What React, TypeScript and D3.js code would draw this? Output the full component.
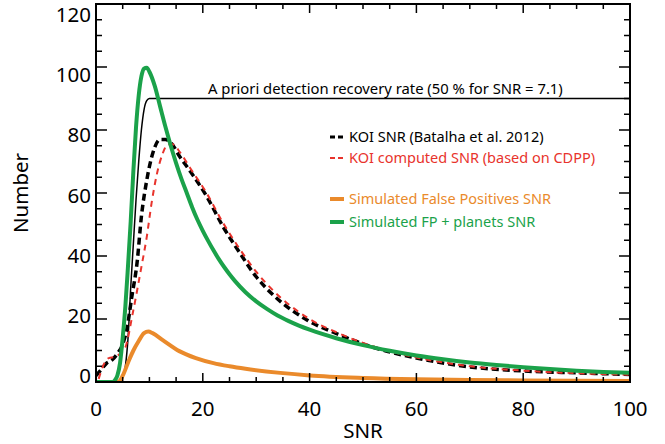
import * as d3 from "d3";
import React from "react";

// SNR, number pairs
const koiSnr: [number, number][] = [
  [0, 2], [1, 4], [2, 6], [3, 7], [4, 9], [5, 12], [5.8, 17], [6.7, 27], [7.7, 38],
  [8.5, 52.5], [9.5, 64], [10.7, 73], [12, 77], [13, 77], [14, 76], [15.7, 71.5],
  [17.6, 67], [20.7, 59], [23.8, 49.3], [27, 40.8], [30, 33.4], [33.2, 27.6],
  [39.5, 19.7], [45.7, 14.9], [51, 11.5], [60, 7.6], [70, 4.8], [80, 3.5],
  [90, 2.9], [100, 2.4],
];

const koiComputed: [number, number][] = [
  [0.5, 1], [1.3, 5], [2.4, 7.6], [3.5, 8], [4.5, 9], [5.5, 11], [6.9, 22],
  [8.5, 36.5], [9.5, 46], [10.4, 56.7], [11.4, 66], [12.5, 72.6], [13.5, 75.5],
  [14.3, 75.5], [15.7, 73], [17.6, 68], [20.7, 60], [23.8, 50.5], [27, 42],
  [30, 35], [33.2, 29], [39.5, 20.5], [45.7, 15.3], [51, 11.8], [60, 7.8],
  [70, 5], [80, 3.6], [90, 2.8], [100, 2.3],
];

const simFP: [number, number][] = [
  [0, 0], [4, 0], [4.5, 0.5], [5, 2], [6.2, 7], [7, 10], [8, 13], [9, 15.5],
  [9.8, 16], [10.6, 15.5], [12.5, 13.3], [15.6, 9.8], [18.7, 7.6], [22, 6],
  [25, 5], [28, 4.2], [34.5, 2.9], [40, 2.1], [50, 1.3], [60, 0.85], [70, 0.6],
  [80, 0.5], [100, 0.3],
];

const simFPPlanets: [number, number][] = [
  [0, 0], [3, 0], [3.5, 0.5], [4, 2], [4.5, 6], [5, 14], [5.5, 24], [6, 37],
  [6.5, 51], [7, 67], [7.5, 81], [8, 91], [8.5, 97], [9, 99.5], [9.5, 99.8],
  [10, 98.5], [11, 94], [12, 87.5], [13, 81], [14, 75], [15, 69.5], [16, 64.5],
  [17, 60], [18, 55.5], [19, 51.5], [20, 48], [21, 44.8], [22, 41.8], [23, 39],
  [24, 36.5], [25, 34.2], [26, 32.1], [28, 28.5], [30, 25.6], [32, 23.2],
  [34, 21.1], [36, 19.4], [38, 17.9], [40, 16.6], [45, 13.9], [50, 11.7],
  [55, 9.9], [60, 8.4], [65, 7.2], [70, 6.2], [75, 5.4], [80, 4.7], [85, 4.1],
  [90, 3.6], [95, 3.2], [100, 2.9],
];

const recoveryRate: [number, number][] = [
  [0, 0], [4, 0], [4.5, 0.3], [5, 1.5], [5.5, 5], [6, 14], [6.5, 30], [7, 44],
  [7.5, 58], [8, 70], [8.5, 80], [9, 86.5], [9.5, 89.3], [10, 90], [100, 90],
];

const xTicks = [0, 20, 40, 60, 80, 100];
const yTicks = [0, 20, 40, 60, 80, 100, 120];

const legendItems = [
  { label: "KOI SNR (Batalha et al. 2012)", color: "#000000", dashed: true, width: 3 },
  { label: "KOI computed SNR (based on CDPP)", color: "#e8332c", dashed: true, width: 2 },
  { label: "Simulated False Positives SNR", color: "#ea8a2b", dashed: false, width: 4 },
  { label: "Simulated FP + planets SNR", color: "#1ba24a", dashed: false, width: 4 },
];
const legendRows = [137, 158, 199, 222];

const W = 665;
const H = 444;
const m = { left: 96, right: 35, top: 4, bottom: 62 };
const font = "'Noto Sans', sans-serif";

export default function App() {
  const x = d3.scaleLinear().domain([0, 100]).range([m.left, W - m.right]);
  const y = d3.scaleLinear().domain([0, 120]).range([H - m.bottom, m.top]);
  // the y tick labels sit slightly inside the end ticks in the original
  const yLabel = d3.scaleLinear().domain([0, 120]).range([H - m.bottom - 6, m.top + 11]);
  const line = d3
    .line<[number, number]>()
    .x((d) => x(d[0]))
    .y((d) => y(d[1]))
    .curve(d3.curveMonotoneX);

  const x0 = x(0), x1 = x(100), yb = y(0), yt = y(120);
  const xMinor = d3.range(0, 101, 5);
  const yMinor = d3.range(0, 121, 5);

  return (
    <svg
      width={W}
      height={H}
      style={{ position: "absolute", left: 0, top: 0, background: "#fff" }}
    >
      <defs>
        <clipPath id="plot">
          <rect x={x0} y={yt} width={x1 - x0} height={yb - yt} />
        </clipPath>
      </defs>

      <g clipPath="url(#plot)" fill="none">
        <path d={line(recoveryRate) ?? ""} stroke="#000" strokeWidth={1.5} />
        <path d={line(koiSnr) ?? ""} stroke="#000" strokeWidth={3.5} strokeDasharray="7 4" />
        <path d={line(koiComputed) ?? ""} stroke="#e8332c" strokeWidth={2} strokeDasharray="6 5" />
        <path d={line(simFP) ?? ""} stroke="#ea8a2b" strokeWidth={4} />
        <path d={line(simFPPlanets) ?? ""} stroke="#1ba24a" strokeWidth={4} />
      </g>

      {/* frame and ticks */}
      <rect x={x0} y={yt} width={x1 - x0} height={yb - yt} fill="none" stroke="#000" strokeWidth={2} />
      <g stroke="#000" strokeWidth={1.5}>
        {xMinor.map((v) => {
          const len = v % 20 === 0 ? 9 : 5;
          return (
            <g key={"x" + v}>
              <line x1={x(v)} x2={x(v)} y1={yb} y2={yb - len} />
              <line x1={x(v)} x2={x(v)} y1={yt} y2={yt + len} />
            </g>
          );
        })}
        {yMinor.map((v) => {
          const len = v % 20 === 0 ? 11 : 6;
          return (
            <g key={"y" + v}>
              <line x1={x0} x2={x0 + len} y1={y(v)} y2={y(v)} />
              <line x1={x1} x2={x1 - len} y1={y(v)} y2={y(v)} />
            </g>
          );
        })}
      </g>

      <g fontFamily={font} fontSize={20.5} fill="#000">
        {xTicks.map((v) => (
          <text key={v} x={x(v)} y={yb + 34} textAnchor="middle">
            {v}
          </text>
        ))}
        {yTicks.map((v) => (
          <text key={v} x={x0 - 5} y={yLabel(v) + 7} textAnchor="end">
            {v}
          </text>
        ))}
        <text x={(x0 + x1) / 2} y={H - 6} textAnchor="middle">SNR</text>
        <text transform={`translate(28,${(yb + yt) / 2}) rotate(-90)`} textAnchor="middle">
          Number
        </text>
      </g>

      <text x={208} y={y(90) - 5} fontFamily={font} fontSize={14.8}>
        A priori detection recovery rate (50 % for SNR = 7.1)
      </text>

      <g fontFamily={font} fontSize={14.5}>
        {legendItems.map((it, i) => {
          const ly = legendRows[i];
          return (
            <g key={it.label}>
              <line
                x1={330}
                x2={344}
                y1={ly}
                y2={ly}
                stroke={it.color}
                strokeWidth={it.width}
                strokeDasharray={it.dashed ? "5 3" : undefined}
              />
              <text x={349} y={ly + 5} fill={it.color}>
                {it.label}
              </text>
            </g>
          );
        })}
      </g>
    </svg>
  );
}
